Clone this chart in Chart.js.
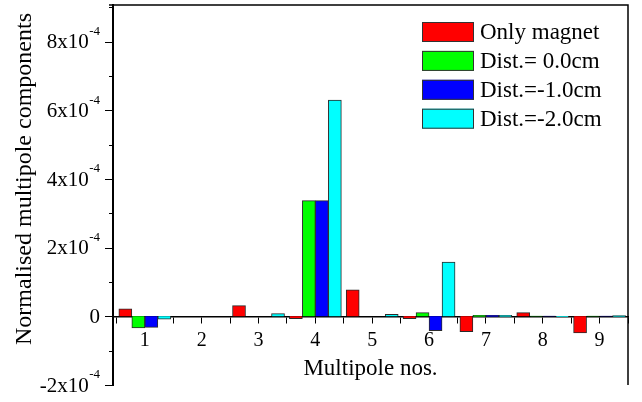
<!DOCTYPE html>
<html lang="en">
<head>
  <meta charset="UTF-8">
  <title>Normalised multipole components</title>
  <script src="https://cdn.jsdelivr.net/npm/chart.js"></script>
  <style>
    body {
      margin: 0;
      background: #ffffff;
    }
  </style>
</head>
<body>
  <canvas id="barChart" width="642" height="402"></canvas>

  <script>
    // values (axis shows x10^-4)
    const multipoleNos = [1, 2, 3, 4, 5, 6, 7, 8, 9];
    const onlyMagnet = [2.2e-5, 0, 3.1e-5, -0.7e-5, 7.7e-5, -0.7e-5, -4.5e-5, 1.1e-5, -4.8e-5];
    const dist00 = [-3.4e-5, 0, 0, 3.37e-4, 0, 1.1e-5, 0.3e-5, 0.1e-5, 0.1e-5];
    const distM10 = [-3.2e-5, 0, 0, 3.37e-4, 0, -4.2e-5, 0.3e-5, 0.1e-5, 0.1e-5];
    const distM20 = [-0.8e-5, 0, 0.8e-5, 6.3e-4, 0.6e-5, 1.58e-4, 0.3e-5, -0.2e-5, 0.2e-5];
    const seriesLabels = ["Only magnet", "Dist.= 0.0cm", "Dist.=-1.0cm", "Dist.=-2.0cm"];
    const yTickValues = [-2e-4, 0, 2e-4, 4e-4, 6e-4, 8e-4];
    const yTickLabels = ["-2x10^-4", "0", "2x10^-4", "4x10^-4", "6x10^-4", "8x10^-4"];

    const FONT = "'Liberation Serif', 'Times New Roman', serif";
    const colors = ["#ff0000", "#00ff00", "#0000ff", "#00ffff"];

    function toPoints(values) {
      return values.map((v, i) => ({ x: multipoleNos[i], y: v }));
    }

    // frame, y ticks with superscripts, y title and the legend box
    const extras = {
      id: "extras",
      afterDraw(chart) {
        const ctx = chart.ctx;
        const area = chart.chartArea;
        const y = chart.scales.y;
        ctx.save();
        ctx.strokeStyle = "#000";
        ctx.lineWidth = 1.5;
        ctx.beginPath();
        ctx.moveTo(area.left - 4, area.top);
        ctx.lineTo(area.right, area.top);
        ctx.lineTo(area.right, area.bottom);
        ctx.stroke();

        // y tick marks, long on labelled ones
        ctx.lineWidth = 1;
        y.ticks.forEach(t => {
          const py = Math.round(y.getPixelForValue(t.value)) + 0.5;
          const n = Math.round(t.value / 1e-4);
          const len = n % 2 === 0 ? 8 : 4;
          ctx.beginPath();
          ctx.moveTo(area.left - len, py);
          ctx.lineTo(area.left, py);
          ctx.stroke();
        });

        // y tick labels
        ctx.fillStyle = "#000";
        ctx.textAlign = "right";
        ctx.textBaseline = "middle";
        const right = area.left - 13;
        yTickValues.forEach((v, i) => {
          const py = y.getPixelForValue(v);
          const parts = yTickLabels[i].split("^");
          let x = right;
          if (parts.length > 1) {
            ctx.font = "13px " + FONT;
            ctx.fillText(parts[1], x, py - 10);
            x -= ctx.measureText(parts[1]).width + 0.5;
          }
          ctx.font = "21px " + FONT;
          ctx.fillText(parts[0], x, py + 1);
        });

        // y title
        ctx.save();
        ctx.translate(25, 179);
        ctx.rotate(-Math.PI / 2);
        ctx.textAlign = "center";
        ctx.textBaseline = "middle";
        ctx.font = "24px " + FONT;
        ctx.fillText("Normalised multipole components", 0, 0);
        ctx.restore();

        // legend
        ctx.textAlign = "left";
        ctx.textBaseline = "middle";
        ctx.font = "23px " + FONT;
        chart.data.datasets.forEach((ds, i) => {
          const cy = 32 + i * 28.9;
          ctx.fillStyle = ds.backgroundColor;
          ctx.fillRect(422, cy - 10, 52, 20);
          ctx.strokeStyle = "#333";
          ctx.lineWidth = 1;
          ctx.strokeRect(422.5, cy - 9.5, 51, 19);
          ctx.fillStyle = "#000";
          ctx.fillText(ds.label, 480, cy + 1);
        });
        ctx.restore();
      }
    };

    const allSeries = [onlyMagnet, dist00, distM10, distM20];

    new Chart(document.getElementById("barChart"), {
      type: "bar",
      data: {
        datasets: allSeries.map((vals, i) => ({
          label: seriesLabels[i],
          data: toPoints(vals),
          backgroundColor: colors[i],
          borderColor: "#2a2a2a",
          borderWidth: 1,
          barThickness: 13
        }))
      },
      options: {
        responsive: false,
        animation: false,
        layout: { padding: { top: 5, right: 14, bottom: 17, left: 0 } },
        plugins: {
          legend: { display: false },
          tooltip: { enabled: false }
        },
        scales: {
          x: {
            type: "linear",
            min: 0.44,
            max: 9.5,
            offset: false,
            position: { y: 0 },
            ticks: {
              stepSize: 0.5,
              includeBounds: false,
              autoSkip: false,
              maxRotation: 0,
              padding: 6,
              color: "#000",
              font: { family: FONT, size: 20 },
              callback: v => (Number.isInteger(v) && v >= 1 && v <= 9) ? String(v) : ""
            },
            grid: { offset: false, drawOnChartArea: false, tickLength: 6, color: "#000", lineWidth: 1 },
            border: { display: true, color: "#000", width: 1.5 },
            title: {
              display: true,
              text: "Multipole nos.",
              color: "#000",
              font: { family: FONT, size: 23, lineHeight: 1 },
              padding: { top: -1, bottom: 0 }
            }
          },
          y: {
            min: -2e-4,
            max: 9.07e-4,
            ticks: { stepSize: 1e-4, includeBounds: false, display: false },
            grid: { display: false },
            border: { display: true, color: "#000", width: 2 },
            afterFit: scale => { scale.width = 113; }
          }
        }
      },
      plugins: [extras]
    });
  </script>
</body>
</html>
